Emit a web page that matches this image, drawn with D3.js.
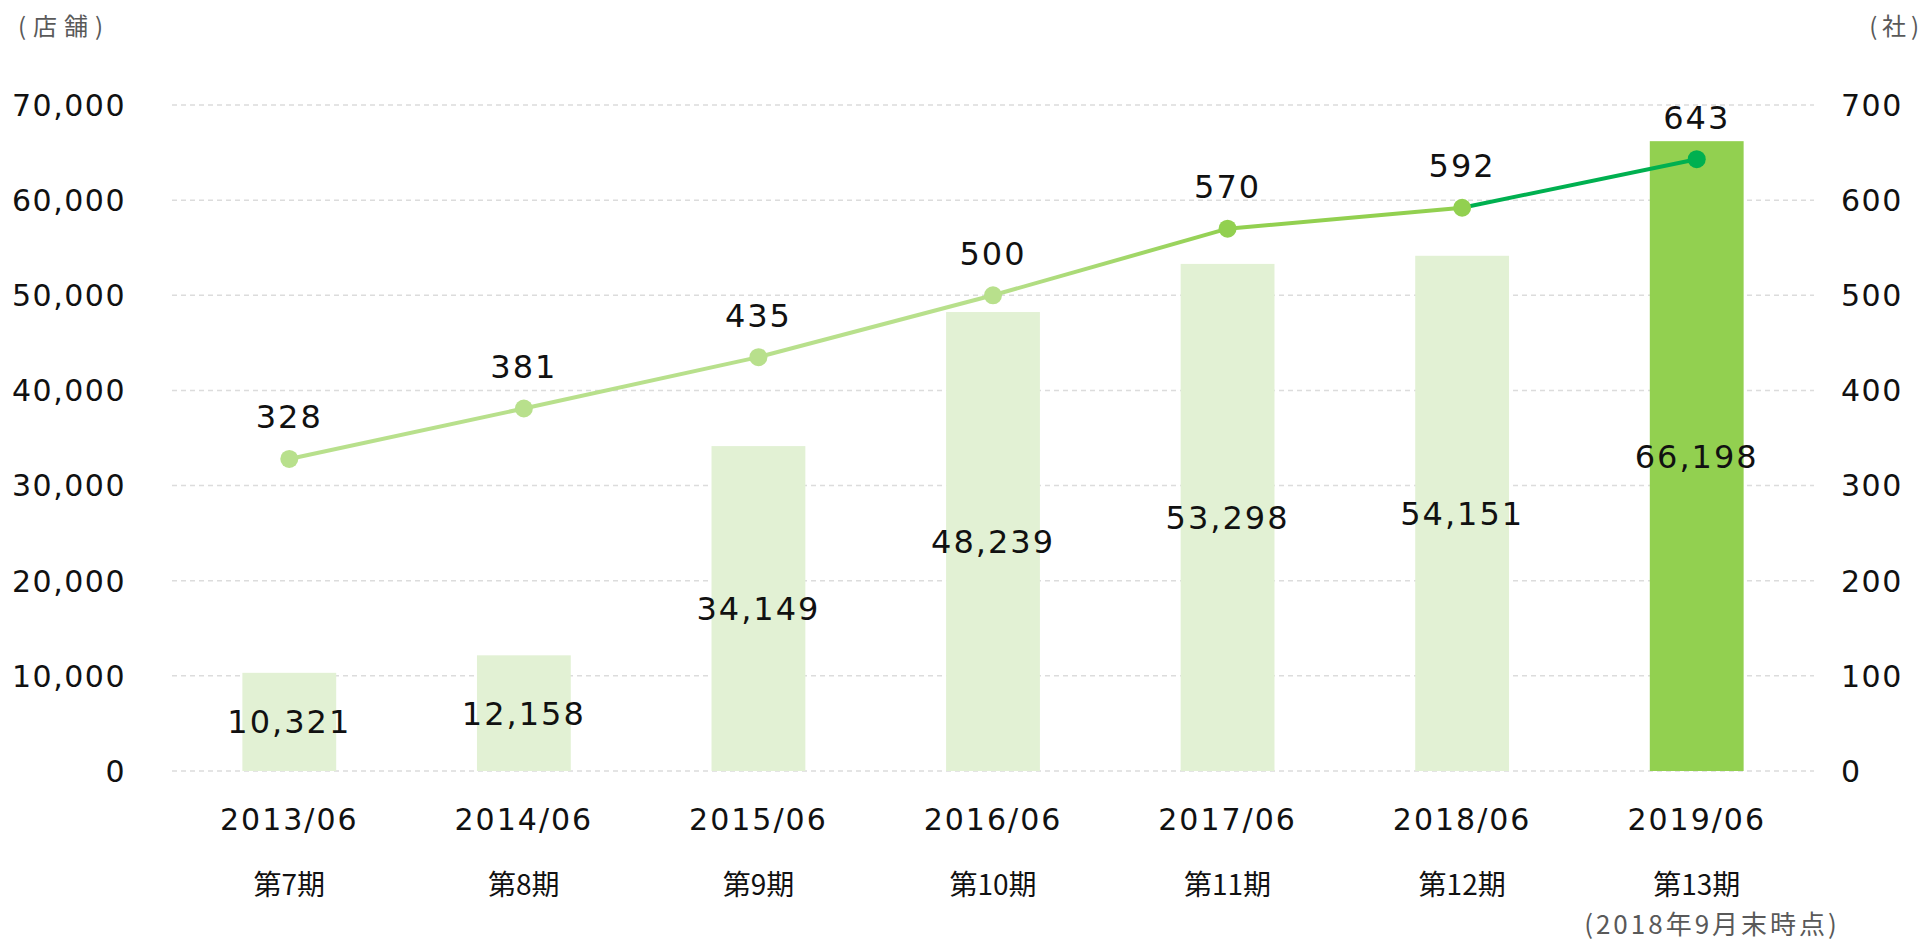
<!DOCTYPE html>
<html>
<head>
<meta charset="utf-8">
<script src="https://cdn.jsdelivr.net/npm/d3@7"></script>
<style>
  body { margin: 0; background: #fff; }
  text { font-family: "DejaVu Sans", Verdana, "Noto Sans CJK JP", sans-serif; }
  .jp { font-family: "Noto Sans CJK JP", sans-serif; }
</style>
</head>
<body>
<div id="chart"></div>
<script>
// data
let periods = ["2013/06", "2014/06", "2015/06", "2016/06", "2017/06", "2018/06", "2019/06"];
let terms = ["第7期", "第8期", "第9期", "第10期", "第11期", "第12期", "第13期"];
let stores = [10321, 12158, 34149, 48239, 53298, 54151, 66198];
let companies = [328, 381, 435, 500, 570, 592, 643];
let leftTicks = [0, 10000, 20000, 30000, 40000, 50000, 60000, 70000];
let rightTicks = [0, 100, 200, 300, 400, 500, 600, 700];

let light = "#b8e08c", mid = "#92d050", dark = "#00b050";
let pointColors = [light, light, light, light, mid, mid, dark];
let segColors = [[light, light], [light, light], [light, light], [light, mid], [mid, mid], [dark, dark]];

let width = 1922, height = 943;
let plot = { left: 172, right: 1814, top: 105, bottom: 771 };

let svg = d3.select("#chart").append("svg")
    .attr("width", width)
    .attr("height", height);

let x = d3.scaleBand()
    .domain(periods)
    .range([plot.left, plot.right])
    .padding(0);

let yLeft = d3.scaleLinear().domain([0, 70000]).range([plot.bottom, plot.top]);
let yRight = d3.scaleLinear().domain([0, 700]).range([plot.bottom, plot.top]);

let barW = x.bandwidth() * 0.4;
let cx = function(d) { return x(d) + x.bandwidth() / 2; };
let fmt = d3.format(",");

// grid
svg.append("g").selectAll("line")
    .data(leftTicks)
    .enter().append("line")
    .attr("x1", plot.left)
    .attr("x2", plot.right)
    .attr("y1", function(d) { return yLeft(d); })
    .attr("y2", function(d) { return yLeft(d); })
    .style("stroke", "#dcdcdc")
    .style("stroke-width", 1.5)
    .style("stroke-dasharray", "5,4");

// left axis labels
svg.append("g").selectAll("text")
    .data(leftTicks)
    .enter().append("text")
    .attr("x", 126)
    .attr("y", function(d) { return yLeft(d); })
    .attr("dy", "0.36em")
    .style("text-anchor", "end")
    .style("font-size", "30px")
    .style("letter-spacing", "1.5px")
    .style("fill", "#111")
    .text(function(d) { return fmt(d); });

// right axis labels
svg.append("g").selectAll("text")
    .data(rightTicks)
    .enter().append("text")
    .attr("x", 1841)
    .attr("y", function(d) { return yRight(d); })
    .attr("dy", "0.36em")
    .style("text-anchor", "start")
    .style("font-size", "30px")
    .style("letter-spacing", "1.5px")
    .style("fill", "#111")
    .text(function(d) { return d; });

// unit labels
svg.append("text")
    .attr("x", 18).attr("y", 26).attr("dy", "0.36em")
    .attr("class", "jp")
    .style("font-size", "24px")
    .style("letter-spacing", "7px")
    .style("fill", "#595959")
    .text("(店舗)");

svg.append("text")
    .attr("x", 1919).attr("y", 26).attr("dy", "0.36em")
    .attr("class", "jp")
    .style("text-anchor", "end")
    .style("font-size", "24px")
    .style("fill", "#595959")
    .text("(\u2009社\u2009)");

// bars
svg.append("g").selectAll("rect")
    .data(stores)
    .enter().append("rect")
    .attr("x", function(d, i) { return cx(periods[i]) - barW / 2; })
    .attr("y", function(d) { return yLeft(d); })
    .attr("width", barW)
    .attr("height", function(d) { return plot.bottom - yLeft(d); })
    .style("fill", function(d, i) { return i === stores.length - 1 ? "#92d050" : "#e2f1d4"; });

// bar value labels
svg.append("g").selectAll("text")
    .data(stores)
    .enter().append("text")
    .attr("x", function(d, i) { return cx(periods[i]); })
    .attr("y", function(d) { return (yLeft(d) + plot.bottom) / 2; })
    .attr("dy", "0.36em")
    .style("text-anchor", "middle")
    .style("font-size", "32px")
    .style("letter-spacing", "2px")
    .style("fill", "#111")
    .text(function(d) { return fmt(d); });

// line segments with gradients
let defs = svg.append("defs");
let pts = companies.map(function(d, i) { return [cx(periods[i]), yRight(d)]; });

segColors.forEach(function(c, i) {
    let g = defs.append("linearGradient")
        .attr("id", "seg" + i)
        .attr("gradientUnits", "userSpaceOnUse")
        .attr("x1", pts[i][0]).attr("y1", pts[i][1])
        .attr("x2", pts[i + 1][0]).attr("y2", pts[i + 1][1]);
    g.append("stop").attr("offset", "0%").attr("stop-color", c[0]);
    g.append("stop").attr("offset", "100%").attr("stop-color", c[1]);
});

svg.append("g").selectAll("line")
    .data(d3.range(companies.length - 1))
    .enter().append("line")
    .attr("x1", function(i) { return pts[i][0]; })
    .attr("y1", function(i) { return pts[i][1]; })
    .attr("x2", function(i) { return pts[i + 1][0]; })
    .attr("y2", function(i) { return pts[i + 1][1]; })
    .style("stroke", function(i) { return "url(#seg" + i + ")"; })
    .style("stroke-width", 4);

svg.append("g").selectAll("circle")
    .data(companies)
    .enter().append("circle")
    .attr("cx", function(d, i) { return cx(periods[i]); })
    .attr("cy", function(d) { return yRight(d); })
    .attr("r", 9)
    .style("fill", function(d, i) { return pointColors[i]; });

// line value labels
svg.append("g").selectAll("text")
    .data(companies)
    .enter().append("text")
    .attr("x", function(d, i) { return cx(periods[i]); })
    .attr("y", function(d) { return yRight(d) - 42; })
    .attr("dy", "0.36em")
    .style("text-anchor", "middle")
    .style("font-size", "32px")
    .style("letter-spacing", "2px")
    .style("fill", "#111")
    .text(function(d) { return d; });

// x labels
svg.append("g").selectAll("text")
    .data(periods)
    .enter().append("text")
    .attr("x", function(d) { return cx(d); })
    .attr("y", 819)
    .attr("dy", "0.36em")
    .style("text-anchor", "middle")
    .style("font-size", "30px")
    .style("letter-spacing", "2px")
    .style("fill", "#111")
    .text(function(d) { return d; });

svg.append("g").selectAll("text")
    .data(terms)
    .enter().append("text")
    .attr("class", "jp")
    .attr("x", function(d, i) { return cx(periods[i]); })
    .attr("y", 885)
    .attr("dy", "0.36em")
    .style("text-anchor", "middle")
    .style("font-size", "28px")
    .style("fill", "#111")
    .text(function(d) { return d; });

svg.append("text")
    .attr("class", "jp")
    .attr("x", 1712)
    .attr("y", 925)
    .attr("dy", "0.36em")
    .style("text-anchor", "middle")
    .style("font-size", "26px")
    .style("letter-spacing", "3px")
    .style("fill", "#595959")
    .text("(2018年9月末時点)");
</script>
</body>
</html>
